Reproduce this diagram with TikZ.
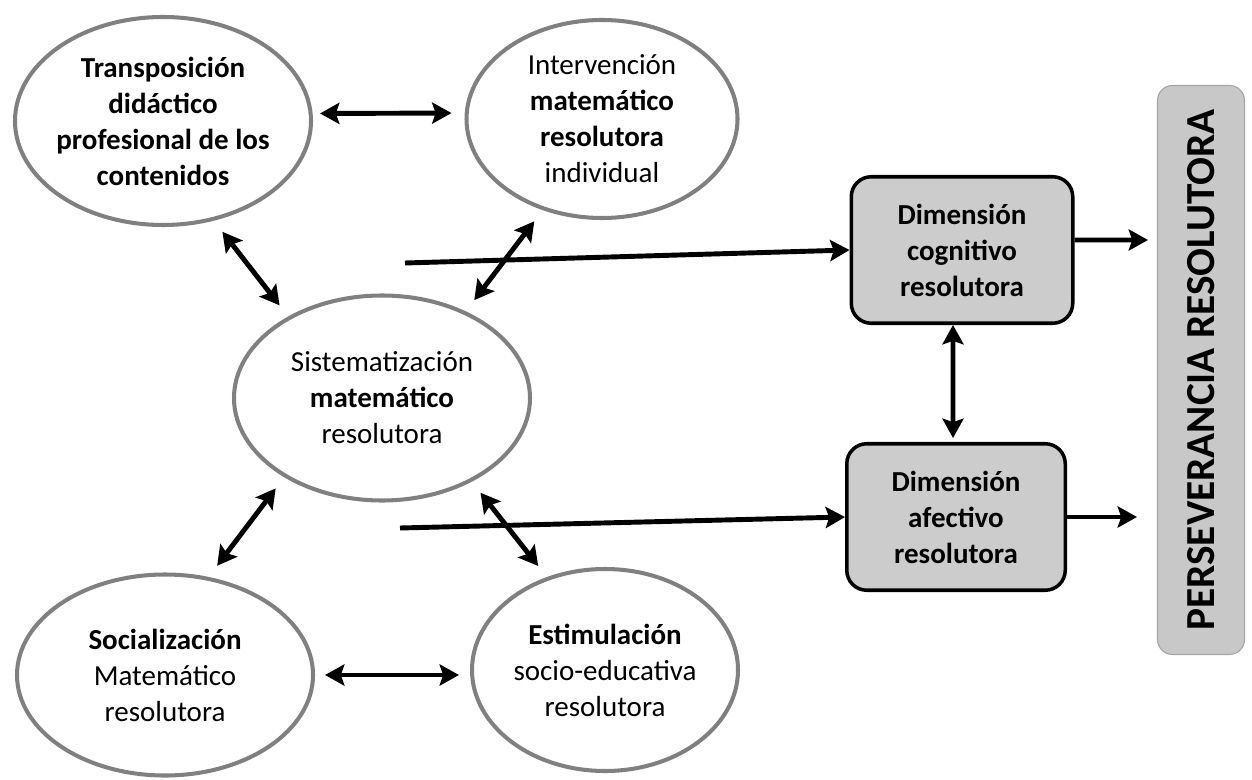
\documentclass[tikz,border=0pt]{standalone}
\usepackage{fontspec}
\setmainfont{Carlito}
\usepackage{tikz}
\usetikzlibrary{arrows.meta, shapes.geometric}
\definecolor{ringgray}{RGB}{128,128,128}
\definecolor{boxgray}{RGB}{204,204,204}
\definecolor{barfill}{RGB}{200,200,200}
\definecolor{barline}{RGB}{165,165,165}

\begin{document}
\begin{tikzpicture}

        % Frame of the whole figure
        \useasboundingbox (0,0) rectangle (25.04,15.58);

        % 1. Styles
        \tikzset{
            ring/.style={ellipse, draw=ringgray, line width=2.3pt, fill=white},
            ringtext/.style={align=center, font=\fontsize{16.5}{20.5}\selectfont, inner sep=0pt},
            dimbox/.style={rectangle, rounded corners=0.4cm, draw=black, line width=2pt,
                fill=boxgray, align=center, font=\fontsize{16.5}{20.5}\selectfont\bfseries},
            dbl/.style={{Stealth[length=11pt, width=12pt, inset=2pt]}-{Stealth[length=11pt, width=12pt, inset=2pt]}, line width=2.8pt},
            one/.style={-{Stealth[length=11pt, width=12pt, inset=2pt]}, line width=2.8pt}
        }

        \def\gapArrow{0.28cm}

        % 2. The five ellipses
        \node[ring, minimum width=5.92cm, minimum height=4.16cm,
            label={[ringtext]center:{\bfseries Transposición\\\bfseries didáctico\\\bfseries profesional de los\\\bfseries contenidos}}]
            (trans) at (3.26,13.16) {};
        \node[ring, minimum width=5.42cm, minimum height=3.96cm,
            label={[ringtext]center:{Intervención\\\textbf{matemático}\\\textbf{resolutora}\\individual}}]
            (interv) at (12.04,13.2) {};
        \node[ring, minimum width=5.92cm, minimum height=4.1cm,
            label={[ringtext]center:{Sistematización\\\textbf{matemático}\\resolutora}}]
            (sist) at (7.64,7.62) {};
        \node[ring, minimum width=5.92cm, minimum height=4.02cm,
            label={[ringtext]center:{\textbf{Socialización}\\Matemático\\resolutora}}]
            (social) at (3.3,2.08) {};
        \node[ring, minimum width=5.32cm, minimum height=4.04cm,
            label={[ringtext]center:{\textbf{Estimulación}\\socio-educativa\\resolutora}}]
            (estim) at (12.1,2.18) {};

        % 3. The two dimension boxes and the bar
        \node[dimbox, minimum width=4.43cm, minimum height=2.93cm] (cogn) at (19.24,10.58)
            {Dimensión\\cognitivo\\resolutora};
        \node[dimbox, minimum width=4.37cm, minimum height=2.93cm] (afect) at (19.12,5.24)
            {Dimensión\\afectivo\\resolutora};
        \node[rectangle, rounded corners=0.3cm, draw=barline, line width=0.6pt, fill=barfill,
            minimum width=1.74cm, minimum height=11.38cm] (pers) at (24.02,8.18) {};
        \node[rotate=90, font=\fontsize{23.5}{26}\selectfont\bfseries] (perstext) at (pers.center)
            {PERSEVERANCIA RESOLUTORA};

        % 4. Free ends of the long arrows
        \coordinate (inCogn) at (8.1,10.32);
        \coordinate (inAfect) at (8.0,5.02);
        \coordinate (outCogn) at (22.96,10.78);
        \coordinate (outAfect) at (22.74,5.28);

        % 5. Double arrows between the ellipses
        \draw[dbl, shorten <=0.14cm, shorten >=0.26cm] ([yshift=1.5mm]trans.east) -- ([yshift=1.2mm]interv.west);
        \draw[dbl, shorten <=0.2cm, shorten >=0.22cm] (social.east) -- (social.east -| estim.west);
        \draw[dbl, shorten <=\gapArrow, shorten >=\gapArrow] (trans.-63) -- (sist.139);
        \draw[dbl, shorten <=\gapArrow, shorten >=\gapArrow] (interv.237) -- (sist.46);
        \draw[dbl, shorten <=\gapArrow, shorten >=\gapArrow] (social.66) -- (sist.219);
        \draw[dbl, shorten <=\gapArrow, shorten >=\gapArrow] (estim.122) -- (sist.-43);

        % 6. Arrows into and out of the boxes
        \draw[one] (inCogn) -- (cogn.west);
        \draw[one] (inAfect) -- (afect.west);
        \draw[one] ([yshift=2mm]cogn.east) -- (outCogn);
        \draw[one] (afect.east) -- (afect.east -| outAfect);
        \draw[dbl, shorten >=0.08cm] ([xshift=-1.8mm]cogn.south) -- ([xshift=-0.6mm]afect.north);

\end{tikzpicture}
\end{document}
